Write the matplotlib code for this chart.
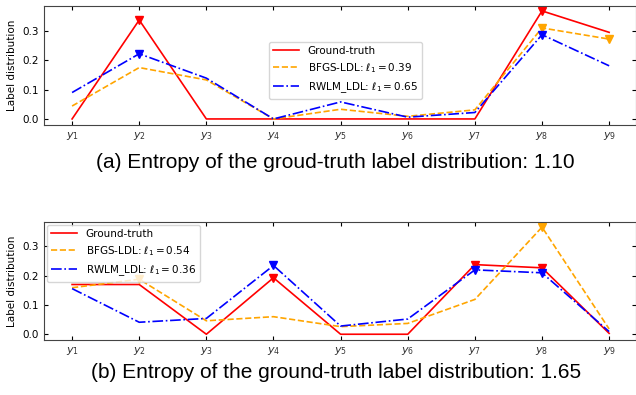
import numpy as np
import matplotlib
matplotlib.use("Agg")
import matplotlib.pyplot as plt

labels = ["$y_%d$" % i for i in range(1, 10)]

# (a) entropy 1.10
gt_a = [0.0, 0.337, 0.0, 0.0, 0.0, 0.0, 0.0, 0.368, 0.295]
bfgs_a = [0.044, 0.175, 0.133, 0.0, 0.033, 0.009, 0.031, 0.310, 0.272]
rwlm_a = [0.090, 0.222, 0.139, 0.0, 0.058, 0.006, 0.022, 0.287, 0.181]
mk_a = {"gt": [1, 7], "bfgs": [7, 8], "rwlm": [1, 7]}
l1_a = {"bfgs": 0.39, "rwlm": 0.65}

# (b) entropy 1.65
gt_b = [0.170, 0.170, 0.0, 0.193, 0.0, 0.0, 0.238, 0.227, 0.003]
bfgs_b = [0.159, 0.188, 0.046, 0.060, 0.026, 0.037, 0.119, 0.366, 0.018]
rwlm_b = [0.156, 0.041, 0.054, 0.235, 0.028, 0.052, 0.220, 0.210, 0.009]
mk_b = {"gt": [3, 6, 7], "bfgs": [1, 7], "rwlm": [3, 6, 7]}
l1_b = {"bfgs": 0.54, "rwlm": 0.36}

plt.rcParams['font.family'] = ['DejaVu Sans']
plt.rcParams['mathtext.fontset'] = 'dejavusans'


def draw(ax, gt, bfgs, rwlm, mk, l1):
    x = np.arange(len(gt))
    series = [(gt, 'red', '-', 'gt', 'Ground-truth'),
              (bfgs, 'orange', '--', 'bfgs', r'BFGS-LDL: $\ell_1 = %.2f$' % l1["bfgs"]),
              (rwlm, 'blue', '-.', 'rwlm', r'RWLM_LDL: $\ell_1 = %.2f$' % l1["rwlm"])]
    for y, c, ls, key, lab in series:
        ax.plot(x, y, color=c, lw=1.2, ls=ls, label=lab)
        idx = mk[key]
        ax.plot(x[idx], np.array(y)[idx], ls='none', marker='v', ms=6, color=c)
    ax.set_xlim(-0.42, 8.4)
    ax.set_ylim(-0.02, 0.385)
    ax.set_xticks(x)
    ax.set_xticklabels(labels, fontsize=8, color='#333333')
    ax.set_yticks([0.0, 0.1, 0.2, 0.3])
    ax.tick_params(axis='y', labelsize=7.5)
    ax.tick_params(direction='in', top=True, right=True, length=3)
    ax.set_ylabel('Label distribution', fontsize=7.5)
    for s in ax.spines.values():
        s.set_color('#444444')


fig = plt.figure(figsize=(6.36, 3.95), dpi=100)
ax1 = fig.add_axes([0.069, 0.684, 0.931, 0.301])
ax2 = fig.add_axes([0.069, 0.139, 0.931, 0.300])

draw(ax1, gt_a, bfgs_a, rwlm_a, mk_a, l1_a)
draw(ax2, gt_b, bfgs_b, rwlm_b, mk_b, l1_b)

ax1.legend(loc='upper left', bbox_to_anchor=(0.375, 0.725), fontsize=7.5,
           handlelength=2.5, borderaxespad=0.3)
ax2.legend(loc='upper left', fontsize=7.5, handlelength=2.5,
           borderaxespad=0.3)

fig.text(0.527, 0.588, '(a) Entropy of the groud-truth label distribution: 1.10',
         ha='center', va='center', fontsize=15, family='Liberation Sans')
fig.text(0.528, 0.058, '(b) Entropy of the ground-truth label distribution: 1.65',
         ha='center', va='center', fontsize=15, family='Liberation Sans')

fig.savefig('out.png', dpi=100)
